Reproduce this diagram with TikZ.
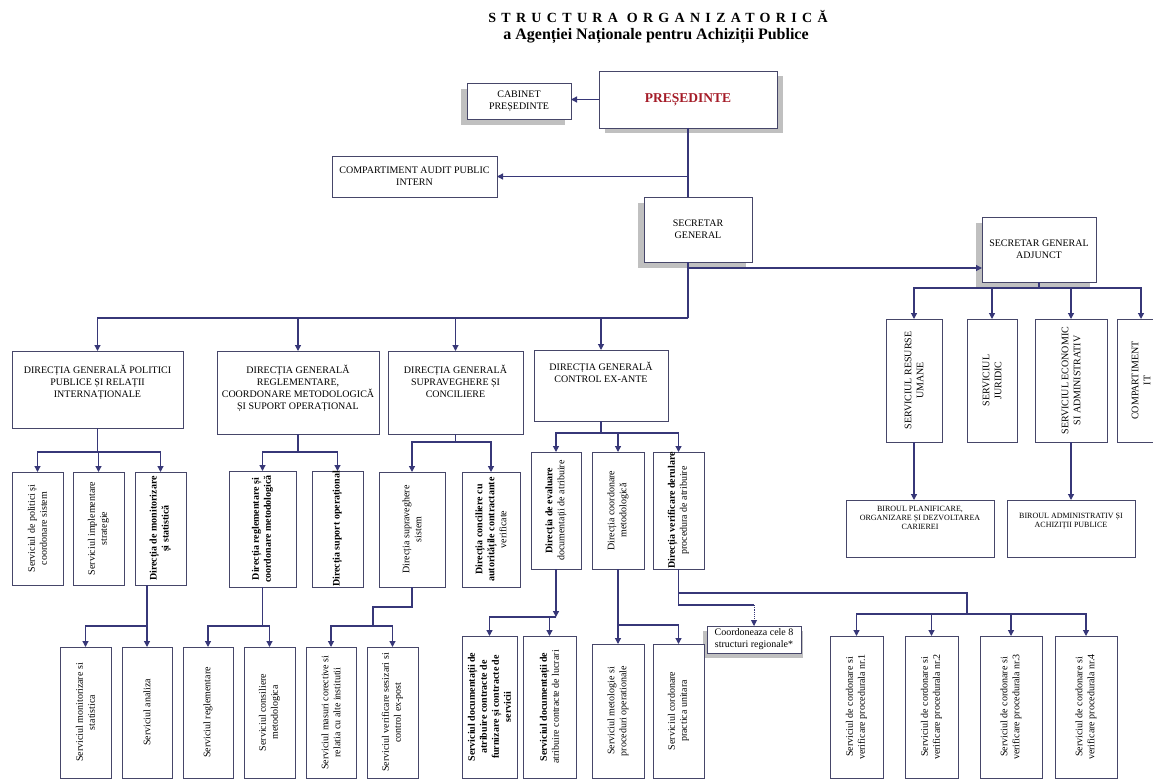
\documentclass[tikz,border=0pt]{standalone}
\usepackage{fontspec}
\setmainfont{Liberation Serif}
\usepackage{graphicx}
\usetikzlibrary{arrows.meta}
\definecolor{lncol}{RGB}{55,55,120}
\definecolor{bxcol}{RGB}{70,70,105}
\definecolor{shcol}{RGB}{192,192,192}
\definecolor{presred}{RGB}{165,28,40}
\newcommand{\hzc}[3]{\parbox[c][#2pt][c]{#1pt}{\centering #3}}
\newcommand{\hzp}[4]{\parbox[c][#2pt][t]{#1pt}{\centering\vspace*{#3pt}#4}}
\newcommand{\vrt}[3]{\rotatebox{90}{\parbox[c][#1pt][c]{#2pt}{\centering #3}}}
\tikzset{
  bx/.style={draw=bxcol, line width=0.9pt, fill=white, inner sep=0pt, outer sep=0pt, font=\fontsize{10}{12}\selectfont},
  ln/.style={draw=lncol, line width=1.2pt},
  arr/.style={ln, -{Triangle[length=6pt,width=6pt]}},
  shd/.style={fill=shcol},
}
\begin{document}
\begin{tikzpicture}[x=1pt,y=-1pt]
\useasboundingbox (0,0) rectangle (1153,781);
\clip (0,0) rectangle (1153,781);
\fill[white] (0,0) rectangle (1153,781);

% titles
\node[inner sep=0pt] (title) at (658,16) {\fontsize{14}{16}\selectfont\bfseries\addfontfeature{LetterSpace=38}STRUCTURA ORGANIZATORICĂ};
\node[inner sep=0pt] (subtitle) at (656,36) {\fontsize{16}{18}\selectfont\bfseries a Agenției Naționale pentru Achiziții Publice};

% shadows
\fill[shd] (605,76) rectangle (783,133);
\fill[shd] (461,89) rectangle (565,125);
\fill[shd] (638,203) rectangle (746,268);
\fill[shd] (976,223) rectangle (1090,288);
\fill[shd] (703,631) rectangle (803,658);

% top level
\node[bx] (pres) at (688,99.5) {\hzc{178}{57}{\fontsize{13.5}{16}\selectfont\bfseries\color{presred}PREȘEDINTE}};
\node[bx] (cab) at (519,101) {\hzc{104}{36}{CABINET\\PREȘEDINTE}};
\node[bx] (audit) at (414.5,176.5) {\hzc{165}{41}{COMPARTIMENT AUDIT PUBLIC\\INTERN}};
\node[bx] (sg) at (698,229.5) {\hzc{108}{65}{SECRETAR\\GENERAL}};
\node[bx] (sga) at (1039,249.5) {\hzc{114}{65}{SECRETAR GENERAL\\ADJUNCT}};

% general directorates
\node[bx] (dgpp) at (97.5,389.5) {\hzp{171}{77}{14}{DIRECȚIA GENERALĂ POLITICI\\PUBLICE ȘI RELAȚII\\INTERNAȚIONALE}};
\node[bx] (dgr) at (298,392.5) {\hzp{162}{83}{14}{DIRECȚIA GENERALĂ\\REGLEMENTARE,\\COORDONARE METODOLOGICĂ\\ȘI SUPORT OPERAȚIONAL}};
\node[bx] (dgs) at (455.5,392.5) {\hzp{135}{83}{14}{DIRECȚIA GENERALĂ\\SUPRAVEGHERE ȘI\\CONCILIERE}};
\node[bx] (dgc) at (601,385.5) {\hzp{134}{71}{12}{DIRECȚIA GENERALĂ\\CONTROL EX-ANTE}};

% right branch
\node[bx] (sru) at (914,380.5) {\vrt{56}{123}{SERVICIUL RESURSE\\UMANE}};
\node[bx] (sju) at (992,380.5) {\vrt{50}{123}{SERVICIUL\\JURIDIC}};
\node[bx] (sea) at (1071,380.5) {\vrt{72}{123}{SERVICIUL ECONOMIC\\SI ADMINISTRATIV}};
\node[bx] (cit) at (1141,380.5) {\vrt{48}{123}{COMPARTIMENT\\IT}};
\node[bx, font=\fontsize{8}{9}\selectfont] (bpo) at (920,528.5) {\hzp{148}{57}{6}{BIROUL PLANIFICARE,\\ORGANIZARE ȘI DEZVOLTAREA\\CARIEREI}};
\node[bx, font=\fontsize{8}{9}\selectfont] (bap) at (1071,528.5) {\hzp{128}{57}{13}{BIROUL ADMINISTRATIV ȘI\\ACHIZIȚII PUBLICE}};

% directions level
\node[bx] (spc) at (37.5,528.5) {\vrt{51}{113}{Serviciul de politici și\\coordonare sistem}};
\node[bx] (sis) at (98.5,528.5) {\vrt{51}{113}{Serviciul implementare\\strategie}};
\node[bx] (dms) at (160.5,528.5) {\vrt{51}{113}{\bfseries Direcția de monitorizare\\și statistică}};
\node[bx] (drc) at (262.5,529) {\vrt{67}{116}{\bfseries Direcția reglementare și\\coordonare metodologică}};
\node[bx] (dso) at (337.5,529) {\vrt{51}{116}{\bfseries Direcția suport operațional}};
\node[bx] (dss) at (412,529.5) {\vrt{66}{115}{Direcția supraveghere\\sistem}};
\node[bx] (dcc) at (491,529.5) {\vrt{58}{115}{\textbf{Direcția conciliere cu}\\\textbf{autoritățile contractante}\\verificate}};
\node[bx] (dea) at (556,510.5) {\vrt{50}{117}{\textbf{Direcția de evaluare}\\documentații de atribuire}};
\node[bx] (dcm) at (618,510.5) {\vrt{52}{117}{Direcția coordonare\\metodologică}};
\node[bx] (dvd) at (678.5,510.5) {\vrt{51}{117}{\textbf{Direcția verificare derulare}\\procedura de atribuire}};

% services level
\node[bx] (sms) at (85.5,712.5) {\vrt{51}{131}{Serviciul monitorizare si\\statistica}};
\node[bx] (san) at (147,712.5) {\vrt{50}{131}{Serviciul analiza}};
\node[bx] (srg) at (208,712.5) {\vrt{50}{131}{Serviciul reglementare}};
\node[bx] (scm) at (269.5,712.5) {\vrt{51}{131}{Serviciul consiliere\\metodologica}};
\node[bx] (smc) at (331,712.5) {\vrt{50}{131}{Serviciul masuri corective si\\relatia cu alte institutii}};
\node[bx] (svs) at (392.5,712.5) {\vrt{51}{131}{Serviciul verificare sesizari si\\control ex-post}};
\node[bx] (sdf) at (489.5,707) {\vrt{55}{142}{\bfseries Serviciul documentații de\\atribuire contracte de\\furnizare și contracte de\\servicii}};
\node[bx] (sdl) at (549.5,707) {\vrt{53}{142}{\textbf{Serviciul documentații de}\\atribuire contracte de lucrari}};
\node[bx] (smp) at (618,711) {\vrt{52}{134}{Serviciul metologie si\\proceduri operationale}};
\node[bx] (scp) at (678.5,711) {\vrt{51}{134}{Serviciul cordonare\\practica unitara}};
\node[bx] (coord) at (754,639.5) {\hzc{94}{27}{Coordoneaza cele 8\\structuri regionale*}};
\node[bx] (scv1) at (856.5,707) {\vrt{53}{142}{Serviciul de cordonare si\\verificare procedurala nr.1}};
\node[bx] (scv2) at (931.5,707) {\vrt{53}{142}{Serviciul de cordonare si\\verificare procedurala nr.2}};
\node[bx] (scv3) at (1011,707) {\vrt{62}{142}{Serviciul de cordonare si\\verificare procedurala nr.3}};
\node[bx] (scv4) at (1086,707) {\vrt{62}{142}{Serviciul de cordonare si\\verificare procedurala nr.4}};

% connectors: top
\draw[arr] (pres.west) -- (pres.west -| cab.east);
\draw[ln] (pres.south) -- (pres.south |- sg.north);
\draw[arr] (pres.south |- audit.east) -- (audit.east);
\draw[ln] (pres.south |- sg.south) -- (pres.south |- 0,318) coordinate (bus1);
\draw[arr] (pres.south |- 0,268) -- (sga.west |- 0,268);
\draw[arr] (bus1) -| (dgpp.north);
\draw[arr] (bus1) -| (dgr.north);
\draw[arr] (bus1) -| (dgs.north);
\draw[arr] (bus1) -| (dgc.north);

% right branch
\draw[ln] (sga.south) -- ++(0,6) coordinate (bus2);
\draw[arr] (bus2) -| (sru.north);
\draw[arr] (bus2) -| (sju.north);
\draw[arr] (bus2) -| (sea.north);
\draw[arr] (bus2) -| (cit.north);
\draw[arr] (sru.south) -- (sru.south |- bpo.north);
\draw[arr] (sea.south) -- (sea.south |- bap.north);

% DG politici
\draw[ln] (dgpp.south) -- (dgpp.south |- 0,452) coordinate (b3);
\draw[arr] (b3) -| (spc.north);
\draw[arr] (b3) -| (sis.north);
\draw[arr] (b3) -| (dms.north);
% DG reglementare
\draw[ln] (dgr.south) -- (dgr.south |- 0,452) coordinate (b4);
\draw[arr] (b4) -| (drc.north);
\draw[arr] (b4) -| (dso.north);
% DG supraveghere
\draw[ln] (dgs.south) -- (dgs.south |- 0,442) coordinate (b5);
\draw[arr] (b5) -| (dss.north);
\draw[arr] (b5) -| (dcc.north);
% DG control
\draw[ln] (dgc.south) -- (dgc.south |- 0,433) coordinate (b6);
\draw[arr] (b6) -| (dea.north);
\draw[arr] (b6) -| (dcm.north);
\draw[arr] (b6) -| (dvd.north);

% monitorizare
\draw[ln] (dms.south -| san.north) -- (san.north |- 0,626) coordinate (b7);
\draw[arr] (b7) -- (san.north);
\draw[arr] (b7) -| (sms.north);
% reglementare
\draw[ln] (drc.south) -- (drc.south |- 0,626) coordinate (b8);
\draw[arr] (b8) -| (srg.north);
\draw[arr] (b8) -| (scm.north);
% supraveghere sistem
\coordinate (b9) at (373,626);
\draw[ln] (dss.south) |- (b9 |- 0,607) -- (b9);
\draw[arr] (b9) -| (smc.north);
\draw[arr] (b9) -| (svs.north);
% evaluare
\draw[arr] (dea.south) -- (dea.south |- 0,617) coordinate (b10);
\draw[arr] (b10) -| (sdf.north);
\draw[arr] (b10) -| (sdl.north);
% coordonare metodologica
\draw[ln] (dcm.south) -- (dcm.south |- 0,625) coordinate (b11);
\draw[arr] (b11) -| (smp.north);
\draw[arr] (b11) -| (scp.north);
% verificare derulare
\coordinate (b12) at (dvd.south |- 0,593);
\coordinate (b13) at (dvd.south |- 0,605);
\coordinate (b14) at (967,614);
\draw[ln] (dvd.south) -- (b13) -- (b13 -| coord.north);
\draw[arr, densely dotted, line width=0.9pt] (b13 -| coord.north) -- (coord.north);
\draw[ln] (b12) -| (b14);
\draw[arr] (b14) -| (scv1.north);
\draw[arr] (b14) -| (scv2.north);
\draw[arr] (b14) -| (scv3.north);
\draw[arr] (b14) -| (scv4.north);
\end{tikzpicture}
\end{document}
